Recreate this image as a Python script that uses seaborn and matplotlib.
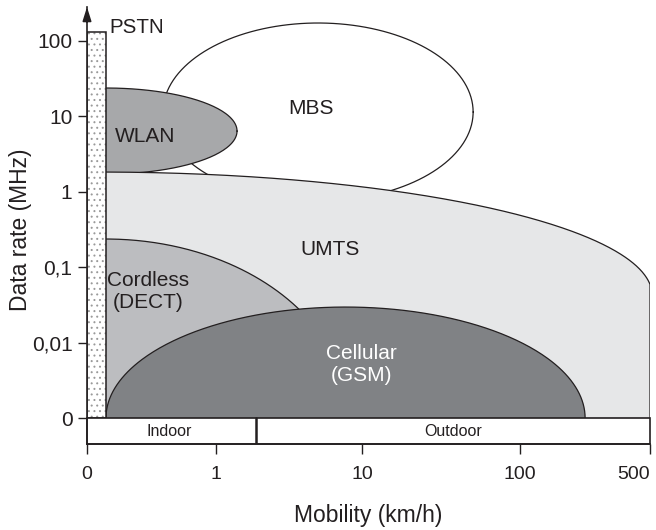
import numpy as np
import pandas as pd
import matplotlib
matplotlib.use("Agg")
import matplotlib.pyplot as plt
from matplotlib.patches import Rectangle
import seaborn as sns

sns.set_theme(style="ticks")
plt.rcParams["font.family"] = ["Liberation Sans", "DejaVu Sans"]
plt.rcParams["hatch.linewidth"] = 0.7

# Schematic mobility axis: tick values and their positions along the axis
mobility_ticks = [0, 1, 10, 100, 500]
mobility_pos = [0.0, 1.0, 2.132, 3.357, 4.364]

# Data-rate axis (log), "0" sits one decade below 0,01
rate_ticks = [1e-3, 1e-2, 1e-1, 1, 10, 100]
rate_labels = ["0", "0,01", "0,1", "1", "10", "100"]

# PSTN bar: mobility extent and peak data rate
pstn_mob = [0.0, 0.147]
pstn_rate = 130.0

# Elliptical coverage regions: centre / half-extent in mobility position
# and in log10(data rate)
regions = ["WLAN", "MBS", "UMTS", "Cordless\n(DECT)", "Cellular\n(GSM)"]
mob_center = [0.147, 1.791, 0.093, 0.147, 2.004]
mob_half = [1.016, 1.202, 4.287, 1.884, 1.857]
lograte_center = [0.801, 1.053, -1.371, -3.0, -3.0]
lograte_half = [0.570, 1.179, 1.629, 2.371, 1.470]

# Label anchors (mobility position, log10 rate)
label_mob = [0.45, 1.736, 1.884, 0.473, 2.124]
label_lograte = [0.735, 1.106, -0.768, -1.324, -2.291]

# Indoor / outdoor split along the mobility axis
indoor_outdoor_split = 1.310

fills = ["#a7a8aa", "#ffffff", "#e6e7e8", "#bcbdc0", "#808285"]
text_colors = ["#231f20", "#231f20", "#231f20", "#231f20", "#ffffff"]

x_max = mobility_pos[-1]
log_bottom = -3.0
log_band = -3.344
log_top = 2.444

fig = plt.figure(figsize=(6.56, 5.30), dpi=100)
ax = fig.add_axes([87 / 656, 86 / 530, 563 / 656, 437 / 530])
ax.set_yscale("log")
ax.set_xlim(0, x_max)
ax.set_ylim(10 ** log_band, 10 ** log_top)

edge_kw = dict(color="#231f20", linewidth=0.9)


def arc(i, t0, t1, n=300):
    t = np.linspace(t0, t1, n)
    x = mob_center[i] + mob_half[i] * np.cos(t)
    y = 10 ** (lograte_center[i] + lograte_half[i] * np.sin(t))
    return x, y


def outline(x, y, z):
    df = pd.DataFrame({"x": x, "y": y})
    sns.lineplot(data=df, x="x", y="y", sort=False, estimator=None,
                 ax=ax, zorder=z + 0.5, **edge_kw)


# MBS (full ellipse, white)
x, y = arc(1, 0, 2 * np.pi)
ax.fill(x, y, color=fills[1], zorder=1, linewidth=0)
outline(x, y, 1)

# WLAN (full ellipse, left part hidden by the PSTN bar)
x, y = arc(0, 0, 2 * np.pi)
ax.fill(x, y, color=fills[0], zorder=2, linewidth=0)
outline(x, y, 2)

# UMTS: upper arc between the PSTN bar and the right end of the axis
c = 2
t_right = np.arccos((x_max - mob_center[c]) / mob_half[c])
t_left = np.arccos((pstn_mob[1] - mob_center[c]) / mob_half[c])
x, y = arc(c, t_left, t_right)
px = np.concatenate([[pstn_mob[1]], x, [x_max]])
py = np.concatenate([[10 ** log_bottom], y, [10 ** log_bottom]])
ax.fill(px, py, color=fills[c], zorder=3, linewidth=0)
outline(np.append(x, x_max), np.append(y, 10 ** log_bottom), 3)

# Cordless (DECT): quarter ellipse
c = 3
x, y = arc(c, 0, np.pi / 2)
px = np.concatenate([[mob_center[c]], x])
py = np.concatenate([[10 ** log_bottom], y])
ax.fill(px, py, color=fills[c], zorder=4, linewidth=0)
outline(x, y, 4)

# Cellular (GSM): half ellipse
c = 4
x, y = arc(c, 0, np.pi)
ax.fill(x, y, color=fills[c], zorder=5, linewidth=0)
outline(x, y, 5)

# PSTN bar, dotted
ax.add_patch(Rectangle((pstn_mob[0], 10 ** log_bottom), pstn_mob[1] - pstn_mob[0],
                       pstn_rate - 10 ** log_bottom, facecolor="white",
                       edgecolor="#9a9a9a", hatch="...", linewidth=0, zorder=6))
ax.add_patch(Rectangle((pstn_mob[0], 10 ** log_bottom), pstn_mob[1] - pstn_mob[0],
                       pstn_rate - 10 ** log_bottom, facecolor="none",
                       edgecolor="#231f20", linewidth=1.1, zorder=6.5))
ax.text(pstn_mob[1] + 0.03, 10 ** 2.179, "PSTN", ha="left", va="center",
        fontsize=14.8, color="#231f20", zorder=8)

# Indoor / Outdoor band under the plot area
ax.add_patch(Rectangle((0, 10 ** log_band), x_max, 10 ** log_bottom - 10 ** log_band,
                       facecolor="white", edgecolor="#231f20", linewidth=1.2,
                       zorder=7, clip_on=False))
ax.plot([indoor_outdoor_split] * 2, [10 ** log_band, 10 ** log_bottom],
        color="#231f20", linewidth=1.8, zorder=7.5)
band_mid = 10 ** ((log_band + log_bottom) / 2)
ax.text(indoor_outdoor_split / 2 - 0.02, band_mid, "Indoor", ha="center", va="center",
        fontsize=11.5, color="#231f20", zorder=8)
ax.text((indoor_outdoor_split + x_max) / 2, band_mid, "Outdoor", ha="center",
        va="center", fontsize=11.5, color="#231f20", zorder=8)

# Region labels
for name, lx, ly, tc in zip(regions, label_mob, label_lograte, text_colors):
    ax.text(lx, 10 ** ly, name, ha="center", va="center", fontsize=15,
            color=tc, zorder=9, linespacing=1.2)

# Axes styling
for side in ["top", "right"]:
    ax.spines[side].set_visible(False)
for side in ["left", "bottom"]:
    ax.spines[side].set_linewidth(1.2)
    ax.spines[side].set_color("#231f20")
    ax.spines[side].set_zorder(10)

ax.set_xticks(mobility_pos)
ax.set_xticklabels([str(v) for v in mobility_ticks])
ax.get_xticklabels()[-1].set_ha("right")
ax.get_xticklabels()[-1].set_x(mobility_pos[-1])
ax.set_yticks(rate_ticks)
ax.set_yticklabels(rate_labels)
ax.minorticks_off()
ax.tick_params(axis="x", direction="out", length=7.5, width=1.0, pad=8,
               labelsize=14, colors="#231f20")
ax.tick_params(axis="y", direction="out", length=6.5, width=1.0, pad=4,
               labelsize=15, colors="#231f20")

ax.set_xlabel("Mobility (km/h)", fontsize=16.5, color="#231f20")
ax.set_ylabel("Data rate (MHz)", fontsize=16.5, color="#231f20")
ax.xaxis.set_label_coords((368 - 87) / 563, -(504 - 444) / 437)
ax.yaxis.set_label_coords(-0.098, (444 - 230) / 437)

# Arrow head on top of the data-rate axis
ax.annotate("", xy=(0, 1.0), xytext=(0, 0.965), xycoords="axes fraction",
            arrowprops=dict(arrowstyle="-|>,head_length=0.7,head_width=0.22",
                            color="#231f20", linewidth=1.2, shrinkA=0, shrinkB=0),
            annotation_clip=False, zorder=11)

fig.savefig("out.png", dpi=100)
